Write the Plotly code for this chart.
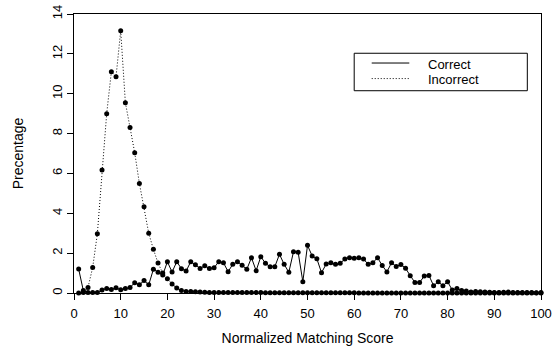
import plotly.graph_objects as go

scores = list(range(1, 101))

correct = [
    1.20, 0.12, 0.02, 0.03, 0.03, 0.15, 0.22, 0.18, 0.26, 0.16,
    0.22, 0.27, 0.52, 0.41, 0.63, 0.41, 1.19, 1.04, 0.90, 1.57,
    1.05, 1.57, 1.22, 1.10, 1.57, 1.42, 1.23, 1.37, 1.23, 1.27,
    1.57, 1.52, 1.07, 1.44, 1.57, 1.39, 1.19, 1.77, 1.12, 1.82,
    1.49, 1.32, 1.32, 1.94, 1.44, 1.04, 2.07, 2.04, 0.57, 2.39,
    1.86, 1.72, 1.02, 1.45, 1.52, 1.44, 1.49, 1.70, 1.77, 1.74,
    1.77, 1.70, 1.44, 1.52, 1.77, 1.38, 1.06, 1.52, 1.33, 1.43,
    1.24, 0.87, 0.53, 0.53, 0.85, 0.88, 0.37, 0.56, 0.37, 0.56,
    0.15, 0.22, 0.12, 0.10, 0.05, 0.08, 0.06, 0.05, 0.04, 0.03,
    0.03, 0.04, 0.05, 0.03, 0.03, 0.02, 0.02, 0.02, 0.01, 0.02,
]

incorrect = [
    0.00, 0.02, 0.28, 1.28, 2.97, 6.17, 9.00, 11.10, 10.85, 13.16,
    9.55, 8.30, 7.04, 5.50, 4.33, 3.00, 2.19, 1.50, 1.00, 0.72,
    0.45, 0.25, 0.13, 0.08, 0.07, 0.06, 0.05, 0.04, 0.03, 0.03,
    0.02, 0.02, 0.02, 0.02, 0.02, 0.02, 0.02, 0.02, 0.02, 0.02,
    0.01, 0.01, 0.01, 0.01, 0.01, 0.01, 0.01, 0.01, 0.01, 0.01,
    0.01, 0.01, 0.01, 0.01, 0.01, 0.01, 0.01, 0.01, 0.01, 0.01,
    0.00, 0.00, 0.00, 0.00, 0.00, 0.00, 0.00, 0.00, 0.00, 0.00,
    0.00, 0.00, 0.00, 0.00, 0.00, 0.00, 0.00, 0.00, 0.00, 0.00,
    0.00, 0.00, 0.00, 0.00, 0.00, 0.00, 0.00, 0.00, 0.00, 0.00,
    0.00, 0.00, 0.00, 0.00, 0.00, 0.00, 0.00, 0.00, 0.00, 0.00,
]

series_names = ["Correct", "Incorrect"]
x_ticks = list(range(0, 101, 10))
y_ticks = list(range(0, 15, 2))

FONT = "Liberation Sans, Arial, Helvetica, sans-serif"
DOTTED = "1px,2px"

fig = go.Figure()
fig.add_trace(go.Scatter(
    x=scores, y=incorrect, name=series_names[1], mode="lines+markers",
    line=dict(color="black", width=1, dash=DOTTED),
    marker=dict(color="black", size=5),
    cliponaxis=False, showlegend=False,
))
fig.add_trace(go.Scatter(
    x=scores, y=correct, name=series_names[0], mode="lines+markers",
    line=dict(color="black", width=1),
    marker=dict(color="black", size=5),
    cliponaxis=False, showlegend=False,
))

# manual legend (box, line samples, labels)
fig.add_shape(type="rect", xref="x", yref="y", x0=60.0, x1=97.07, y0=10.15, y1=12.03,
              line=dict(color="black", width=1), fillcolor="white", layer="above")
fig.add_shape(type="line", xref="x", yref="y", x0=63.75, x1=71.8, y0=11.54, y1=11.54,
              line=dict(color="black", width=1), layer="above")
fig.add_shape(type="line", xref="x", yref="y", x0=63.75, x1=71.8, y0=10.76, y1=10.76,
              line=dict(color="black", width=1, dash=DOTTED), layer="above")
fig.add_annotation(x=75.5, y=11.49, xref="x", yref="y", text=series_names[0],
                   showarrow=False, xanchor="left", yanchor="middle", borderpad=0,
                   font=dict(family=FONT, size=13, color="black"))
fig.add_annotation(x=75.5, y=10.69, xref="x", yref="y", text=series_names[1],
                   showarrow=False, xanchor="left", yanchor="middle", borderpad=0,
                   font=dict(family=FONT, size=13, color="black"))

fig.update_layout(
    width=556, height=346,
    margin=dict(l=74, r=15, t=14, b=53),
    paper_bgcolor="white", plot_bgcolor="white",
    font=dict(family=FONT, size=13, color="black"),
    showlegend=False,
)
fig.update_xaxes(
    range=[0, 100], tickvals=x_ticks, ticks="outside", ticklen=6, tickwidth=1,
    tickcolor="black", showline=True, linecolor="black", linewidth=1, mirror=True,
    showgrid=False, zeroline=False, automargin=False, ticklabelstandoff=2,
    title=dict(text="Normalized Matching Score", font=dict(size=14), standoff=14),
    tickfont=dict(size=13),
)
fig.update_yaxes(
    range=[0, 14], tickvals=y_ticks, ticks="outside", ticklen=6, tickwidth=1,
    tickcolor="black", showline=True, linecolor="black", linewidth=1, mirror=True,
    showgrid=False, zeroline=False, tickangle=-90, automargin=False,
    title=dict(text="Precentage", font=dict(size=14), standoff=22),
    tickfont=dict(size=13),
)

fig.write_html(
    "out.html",
    config={"displayModeBar": False},
    post_script="document.body.style.margin='0';document.body.style.overflow='hidden';",
)
